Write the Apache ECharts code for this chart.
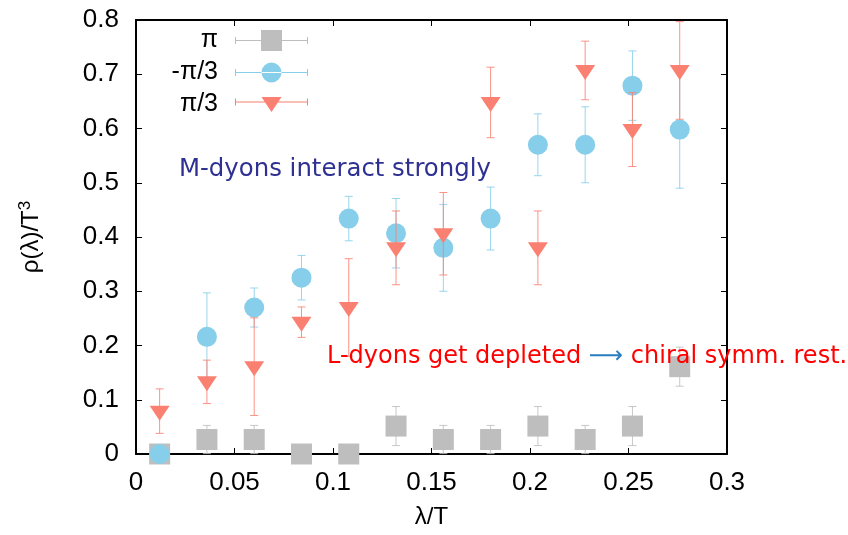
<!DOCTYPE html>
<html><head><meta charset="utf-8">
<script src="https://cdn.jsdelivr.net/npm/echarts@6/dist/echarts.min.js"></script>
<style>html,body{margin:0;padding:0;background:#fff}#c{width:848px;height:535px}</style>
</head><body><div id="c"></div>
<script>
// lambda/T positions
const xValues = [0.012, 0.036, 0.060, 0.084, 0.108, 0.132, 0.156, 0.180, 0.204, 0.228, 0.252, 0.276];
// series "π"
const piValues = [0, 0.0267, 0.0267, 0, 0, 0.0515, 0.0267, 0.0267, 0.0515, 0.0267, 0.0515, 0.161];
const piErrors = [0, 0.026, 0.026, 0, 0, 0.036, 0.026, 0.026, 0.036, 0.026, 0.036, 0.036];
// series "-π/3"
const mpi3Values = [0, 0.216, 0.270, 0.325, 0.434, 0.407, 0.380, 0.434, 0.570, 0.570, 0.679, 0.598];
const mpi3Errors = [0, 0.081, 0.036, 0.041, 0.041, 0.064, 0.080, 0.058, 0.057, 0.070, 0.064, 0.108];
// series "π/3"
const pi3Values = [0.079, 0.133, 0.161, 0.243, 0.270, 0.380, 0.406, 0.648, 0.380, 0.707, 0.598, 0.707];
const pi3Errors = [0.041, 0.040, 0.090, 0.028, 0.090, 0.068, 0.076, 0.065, 0.068, 0.054, 0.068, 0.090];
// tick labels
const xTickLabels = ['0', '0.05', '0.1', '0.15', '0.2', '0.25', '0.3'];
const yTickLabels = ['0', '0.1', '0.2', '0.3', '0.4', '0.5', '0.6', '0.7', '0.8'];
const seriesNames = ['π', '-π/3', 'π/3'];

const colGray = '#bebebe', colBlue = '#87ceeb', colRed = '#fa8072';

function pts(vals) { return xValues.map((x, i) => [x, vals[i]]); }
function errPts(vals, errs) { return xValues.map((x, i) => [x, vals[i], errs[i]]); }

function errRenderer(color) {
  return function (params, api) {
    const x = api.value(0), y = api.value(1), e = api.value(2);
    if (!e) return null;
    const t = api.coord([x, y + e]);
    const b = api.coord([x, y - e]);
    const cw = 4;
    const st = { stroke: color, lineWidth: 1, opacity: 0.85 };
    return {
      type: 'group', children: [
        { type: 'line', shape: { x1: t[0], y1: t[1], x2: b[0], y2: b[1] }, style: st },
        { type: 'line', shape: { x1: t[0] - cw, y1: t[1], x2: t[0] + cw, y2: t[1] }, style: st },
        { type: 'line', shape: { x1: b[0] - cw, y1: b[1], x2: b[0] + cw, y2: b[1] }, style: st }
      ]
    };
  };
}

const iconSquare = 'path://M0 10L73 10L73 11L0 11ZM0 7L1 7L1 14L0 14ZM72 7L73 7L73 14L72 14ZM26 0L47 0L47 21L26 21Z';
const iconCircle = 'path://M0 9.5L73 9.5L73 10.5L0 10.5ZM0 6.5L1 6.5L1 13.5L0 13.5ZM72 6.5L73 6.5L73 13.5L72 13.5ZM26.5 10A10 10 0 1 0 46.5 10A10 10 0 1 0 26.5 10Z';
const iconTri = 'path://M0 4.5L73 4.5L73 5.5L0 5.5ZM0 1.5L1 1.5L1 8.5L0 8.5ZM72 1.5L73 1.5L73 8.5L72 8.5ZM26.5 0L46.5 0L36.5 15Z';

const axisCommon = {
  min: 0,
  axisLine: { show: true, onZero: false, lineStyle: { color: '#000', width: 2 } },
  axisTick: { show: true, inside: true, length: 6, lineStyle: { color: '#000', width: 1 } },
  splitLine: { show: false }
};

const chart = echarts.init(document.getElementById('c'), null, { renderer: 'canvas' });
chart.setOption({
  animation: false,
  backgroundColor: '#fff',
  grid: { left: 136, right: 121, top: 20, bottom: 81 },
  legend: {
    data: [
      { name: seriesNames[0], icon: iconSquare },
      { name: seriesNames[1], icon: iconCircle },
      { name: seriesNames[2], icon: iconTri }
    ],
    orient: 'vertical', align: 'right', right: 540, top: 28, padding: 0,
    itemWidth: 73, itemHeight: 21, itemGap: 7, selectedMode: false,
    textStyle: { fontFamily: 'Liberation Sans', fontSize: 25, color: '#000', lineHeight: 21, padding: [0, 12, 0, 0] }
  },
  xAxis: [
    Object.assign({}, axisCommon, {
      type: 'value', max: 0.3, interval: 0.05, position: 'bottom',
      name: 'λ/T', nameLocation: 'middle', nameGap: 51,
      nameTextStyle: { fontFamily: 'Liberation Sans', fontSize: 24, color: '#000' },
      axisLabel: { margin: 16, fontFamily: 'Liberation Sans', fontSize: 26, color: '#000',
        formatter: (v) => xTickLabels[Math.round(v / 0.05)] }
    }),
    Object.assign({}, axisCommon, {
      type: 'value', max: 0.3, interval: 0.05, position: 'top', axisLabel: { show: false }
    })
  ],
  yAxis: [
    Object.assign({}, axisCommon, {
      type: 'value', max: 0.8, interval: 0.1, position: 'left',
      name: 'ρ(λ)/T{sup|3}', nameLocation: 'middle', nameGap: 90, nameRotate: 90,
      nameTextStyle: { fontFamily: 'Liberation Sans', fontSize: 24, color: '#000',
        rich: { sup: { fontFamily: 'Liberation Sans', fontSize: 17, verticalAlign: 'top', padding: [0, 0, 12, 0], color: '#000' } } },
      axisLabel: { margin: 17, fontFamily: 'Liberation Sans', fontSize: 26, color: '#000',
        formatter: (v) => yTickLabels[Math.round(v / 0.1)] }
    }),
    Object.assign({}, axisCommon, {
      type: 'value', max: 0.8, interval: 0.1, position: 'right', axisLabel: { show: false }
    })
  ],
  graphic: [
    { type: 'text', x: 179, y: 170, z: 10,
      style: { text: 'M-dyons interact strongly', fill: '#2e3192', font: '24.4px "DejaVu Sans"', verticalAlign: 'middle' } },
    { type: 'text', x: 327, y: 357, z: 10,
      style: { text: '{r|L-dyons get depleted }{b|⟶}{r| chiral symm. rest.}', verticalAlign: 'middle',
        rich: { r: { fill: '#ff0000', font: '24px "DejaVu Sans"' }, b: { fill: '#2a7fc1', font: '24px "DejaVu Sans"' } } } }
  ],
  series: [
    { name: 'err-pi', type: 'custom', renderItem: errRenderer(colGray), data: errPts(piValues, piErrors), z: 2 },
    { name: seriesNames[0], type: 'scatter', data: pts(piValues), symbol: 'rect', symbolSize: 21,
      itemStyle: { color: colGray, opacity: 1 }, clip: false, z: 3 },
    { name: 'err-mpi3', type: 'custom', renderItem: errRenderer(colBlue), data: errPts(mpi3Values, mpi3Errors), z: 4 },
    { name: seriesNames[1], type: 'scatter', data: pts(mpi3Values), symbol: 'circle', symbolSize: 20,
      itemStyle: { color: colBlue, opacity: 1 }, clip: false, z: 5 },
    { name: 'err-pi3', type: 'custom', renderItem: errRenderer(colRed), data: errPts(pi3Values, pi3Errors), z: 6 },
    { name: seriesNames[2], type: 'scatter', data: pts(pi3Values), symbol: 'triangle', symbolSize: [20, 15],
      symbolRotate: 180, symbolOffset: [0, 2], itemStyle: { color: colRed, opacity: 1 }, clip: false, z: 7 }
  ]
});
</script></body></html>
